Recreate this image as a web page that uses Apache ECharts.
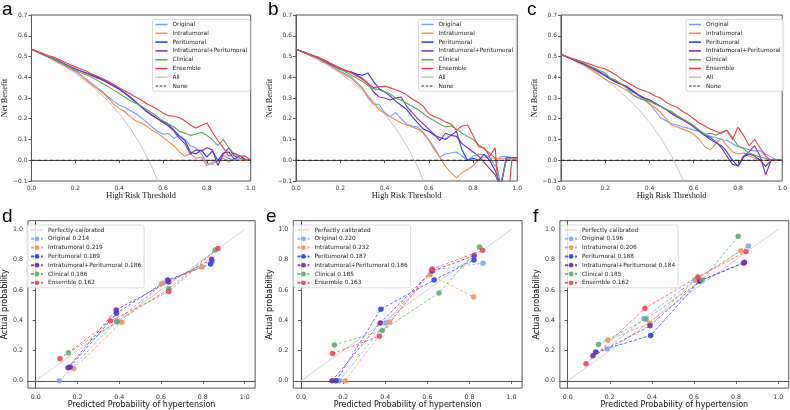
<!DOCTYPE html>
<html><head><meta charset="utf-8">
<script src="https://cdn.jsdelivr.net/npm/echarts@6/dist/echarts.min.js"></script>
<style>html,body{margin:0;padding:0;background:#fff}#c{width:790px;height:410px}</style>
</head><body><div id="c"></div>
<script>
// ---------- DATA ----------
const modelNames = ['Original','Intratumoral','Peritumoral','Intratumoral+Peritumoral','Clinical','Ensemble'];
const thresholds = [0,0.025,0.05,0.075,0.1,0.125,0.15,0.175,0.2,0.225,0.25,0.275,0.3,0.325,0.35,0.375,0.4,0.425,0.45,0.475,0.5,0.525,0.55,0.575,0.6,0.625,0.65,0.675,0.7,0.725,0.75,0.775,0.8,0.825,0.85,0.875,0.9,0.925,0.95,0.975,1.0];
const allThresholds = [0,0.05,0.1,0.15,0.2,0.25,0.3,0.35,0.4,0.45,0.5,0.55,0.6];

// Panel a
const aOriginal = [.535,.523,.51,.497,.485,.472,.458,.443,.428,.41,.39,.37,.35,.33,.305,.285,.265,.255,.24,.225,.205,.185,.16,.14,.125,.13,.105,.12,.1,.07,.06,.03,-.015,-.02,0,.02,.01,0,0,0,0];
const aIntratumoral = [.535,.523,.51,.497,.484,.47,.456,.442,.43,.41,.385,.365,.345,.325,.3,.27,.25,.235,.21,.19,.18,.165,.145,.13,.11,.09,.07,.04,.02,.03,.01,.015,-.025,-.01,-.005,.01,-.01,.01,0,0,0];
const aPeritumoral = [.535,.524,.512,.5,.49,.478,.465,.452,.44,.43,.42,.41,.4,.39,.375,.36,.345,.325,.305,.282,.26,.235,.215,.2,.185,.172,.145,.115,.095,.04,.03,.05,.015,.045,0,.035,.04,.005,.02,.005,0];
const aIntraPeri = [.535,.524,.512,.5,.489,.477,.464,.452,.44,.43,.42,.408,.397,.386,.372,.357,.342,.322,.302,.28,.258,.238,.218,.2,.182,.165,.14,.105,.08,.03,.05,.045,.06,.05,-.025,.03,.06,.02,.01,.005,0];
const aClinical = [.535,.524,.512,.5,.488,.475,.462,.448,.433,.422,.412,.4,.385,.37,.355,.338,.322,.305,.288,.275,.262,.245,.228,.21,.19,.175,.16,.14,.13,.12,.125,.135,.12,.1,.07,.1,.06,.03,.01,.005,0];
const aEnsemble = [.535,.525,.515,.505,.497,.485,.473,.462,.45,.44,.43,.415,.405,.393,.38,.365,.35,.335,.32,.305,.29,.272,.26,.245,.228,.215,.212,.205,.19,.17,.155,.168,.18,.135,.095,.06,.02,.035,.02,.02,0];
const aAll = [.535,.511,.483,.453,.419,.38,.336,.285,.225,.155,.07,-.033,-.16];

// Panel b
const bOriginal = [.535,.524,.512,.5,.49,.475,.46,.445,.43,.415,.4,.375,.35,.3,.27,.27,.23,.21,.23,.2,.175,.165,.16,.135,.1,.06,.015,.03,.035,.04,.02,0,.02,.03,.025,.015,-.03,.018,.018,.012,.012];
const bIntratumoral = [.535,.524,.512,.5,.488,.474,.46,.443,.425,.41,.395,.37,.345,.31,.275,.245,.225,.21,.195,.18,.17,.16,.15,.13,.095,.05,.015,-.03,-.06,-.085,-.06,-.045,-.025,0,.015,.01,.01,.01,.01,.01,.01];
const bPeritumoral = [.535,.525,.515,.505,.495,.48,.465,.452,.44,.43,.425,.415,.41,.42,.38,.345,.33,.31,.285,.265,.245,.21,.18,.15,.14,.12,.11,.1,.12,.14,.05,0,.01,0,.03,0,-.05,-.12,.012,.012,.012];
const bIntraPeri = [.535,.525,.515,.505,.495,.481,.467,.453,.44,.432,.425,.41,.395,.37,.33,.305,.3,.29,.3,.305,.26,.23,.2,.175,.15,.125,.095,.13,.12,.115,.08,.06,.04,.02,-.01,-.04,-.07,-.13,0,0,0];
const bClinical = [.535,.525,.515,.505,.495,.482,.47,.455,.44,.425,.41,.395,.38,.36,.345,.34,.33,.32,.3,.29,.275,.26,.245,.225,.205,.19,.175,.16,.165,.15,.13,.115,.1,.075,.055,.035,.01,-.12,0,0,0];
const bEnsemble = [.535,.525,.515,.505,.497,.484,.47,.458,.445,.432,.42,.405,.39,.37,.35,.355,.358,.35,.34,.33,.315,.295,.28,.26,.225,.21,.2,.185,.175,.145,.165,.17,.12,.065,.06,.02,.06,-.3,-.3,0,0];
const bAll = [.535,.511,.483,.453,.419,.38,.336,.285,.225,.155,.07,-.033,-.16];

// Panel c
const cOriginal = [.51,.499,.488,.475,.463,.449,.435,.42,.405,.39,.38,.365,.35,.33,.31,.295,.275,.24,.205,.19,.175,.17,.16,.155,.145,.14,.125,.115,.11,.1,.095,.08,.065,.06,.05,.045,.045,.03,.015,.003,0];
const cIntratumoral = [.51,.499,.487,.475,.463,.447,.43,.41,.39,.375,.365,.35,.335,.315,.3,.29,.27,.255,.23,.2,.17,.16,.15,.14,.125,.1,.065,.05,.08,.105,.07,.04,.03,.035,.02,.01,0,0,0,0,0];
const cPeritumoral = [.51,.499,.488,.476,.465,.452,.44,.425,.41,.39,.375,.365,.355,.335,.315,.3,.29,.275,.26,.245,.225,.21,.195,.18,.165,.14,.12,.1,.085,.07,.04,0,-.03,.015,.03,.02,0,-.03,0,0,0];
const cIntraPeri = [.51,.499,.488,.476,.465,.452,.44,.424,.408,.392,.378,.365,.35,.33,.315,.3,.29,.275,.26,.245,.225,.21,.195,.18,.16,.14,.12,.11,.09,.06,.02,-.02,-.025,.02,.04,.07,.02,-.07,0,0,0];
const cClinical = [.51,.5,.49,.48,.47,.457,.445,.432,.42,.395,.385,.365,.345,.315,.3,.29,.285,.27,.26,.245,.235,.215,.2,.185,.165,.145,.125,.13,.12,.135,.145,.11,.07,.055,.035,.025,.015,.01,0,0,0];
const cEnsemble = [.51,.5,.49,.482,.475,.465,.455,.447,.44,.425,.41,.39,.375,.36,.345,.335,.325,.31,.3,.28,.265,.255,.235,.22,.2,.18,.165,.15,.14,.13,.145,.1,.16,.12,.07,.1,.06,.02,0,0,0];
const cAll = [.51,.484,.456,.424,.388,.347,.3,.246,.183,.109,.02,-.089,-.225];

// Calibration panels (predicted, actual)
const dNames = ['Original 0.214','Intratumoral 0.219','Peritumoral 0.189','Intratumoral+Peritumoral 0.186','Clinical 0.186','Ensemble 0.162'];
const dPred = [[0.113,0.388,0.61,0.845],[0.182,0.412,0.602,0.796],[0.165,0.387,0.632,0.837],[0.155,0.385,0.636,0.842],[0.157,0.39,0.637,0.859],[0.116,0.358,0.637,0.872]];
const dActual = [[0.0,0.395,0.645,0.79],[0.081,0.387,0.64,0.752],[0.092,0.446,0.666,0.771],[0.086,0.468,0.653,0.802],[0.185,0.389,0.607,0.864],[0.145,0.396,0.589,0.873]];

const eNames = ['Original 0.220','Intratumoral 0.232','Peritumoral 0.187','Intratumoral+Peritumoral 0.186','Clinical 0.185','Ensemble 0.163'];
const ePred = [[0.182,0.403,0.62,0.864],[0.208,0.42,0.613,0.819],[0.166,0.379,0.632,0.821],[0.147,0.376,0.623,0.822],[0.158,0.385,0.655,0.848],[0.149,0.372,0.623,0.862]];
const eActual = [[0,0.382,0.73,0.776],[0,0.389,0.701,0.554],[0,0.473,0.666,0.798],[0,0.382,0.725,0.826],[0.237,0.332,0.58,0.884],[0.18,0.295,0.738,0.862]];

const fNames = ['Original 0.196','Intratumoral 0.206','Peritumoral 0.188','Intratumoral+Peritumoral 0.184','Clinical 0.185','Ensemble 0.162'];
const fPred = [[0.188,0.362,0.604,0.858],[0.191,0.391,0.606,0.823],[0.133,0.394,0.627,0.837],[0.12,0.391,0.627,0.839],[0.147,0.372,0.639,0.81],[0.087,0.367,0.619,0.847]];
const fActual = [[0.211,0.411,0.666,0.89],[0.27,0.38,0.666,0.859],[0.191,0.299,0.659,0.778],[0.165,0.363,0.659,0.782],[0.24,0.407,0.666,0.954],[0.112,0.479,0.686,0.853]];

const perfectLine = [0, 1];
const panelLetters = ['a','b','c','d','e','f'];

// ---------- STYLE ----------
const dcaColors = ['#6f9ff5','#f5884a','#2a36ee','#7a2fae','#5ea45e','#f2394b'];
const calColors = ['#7ea5f2','#f2935e','#2d3cf0','#7a2aa3','#62ad74','#f04657'];
const tickFont = 'DejaVu Sans';
const solidIcon = 'path://M0,0H16V2H0Z';
const thinIcon = 'path://M0,0H24V2H0Z';
const dashIcon = 'path://M0,0H3.5V1.3H0Z M5.5,0H9V1.3H5.5Z M11,0H14.5V1.3H11Z M16,0H16.01V1.3H16Z';

const grids = [
  {left:29.5, top:15, width:221.2, height:166},
  {left:296, top:15, width:221.3, height:166},
  {left:561, top:15, width:221.7, height:166},
  {left:26.3, top:220.7, width:228.8, height:167.6},
  {left:293.3, top:220.7, width:228.8, height:167.6},
  {left:559.9, top:220.7, width:228.8, height:167.6}
].map(g => Object.assign({show:true, borderColor:'#555', borderWidth:1, backgroundColor:'transparent', containLabel:false}, g));

const fmt = v => (v < -1e-9 ? '\u2212' : '') + Math.abs(v).toFixed(1);
const tickVals = [0,0.2,0.4,0.6,0.8,1.0];

const xAxes = [], yAxes = [];
for (let i = 0; i < 3; i++) {
  xAxes.push({gridIndex:i, type:'value', min:0, max:1, interval:0.2,
    axisLine:{show:true, lineStyle:{color:'#555', width:1}}, splitLine:{show:false},
    axisTick:{show:true, length:3, lineStyle:{color:'#555'}},
    axisLabel:{fontSize:6, fontFamily:tickFont, color:'#333', margin:4, formatter:fmt},
    name:'High Risk Threshold', nameLocation:'middle', nameGap:10,
    nameTextStyle:{fontFamily:'Liberation Serif', fontSize:8.3, color:'#111'}});
  yAxes.push({gridIndex:i, type:'value', min:-0.1, max:0.7, interval:0.1,
    axisLine:{show:true, lineStyle:{color:'#555', width:1}}, splitLine:{show:false},
    axisTick:{show:true, length:3, lineStyle:{color:'#555'}},
    axisLabel:{fontSize:6, fontFamily:tickFont, color:'#333', margin:4, formatter:fmt},
    name:'Net Benefit', nameLocation:'middle', nameGap:21, nameRotate:90,
    nameTextStyle:{fontFamily:'Liberation Serif', fontSize:8.3, color:'#111'}});
}
for (let i = 3; i < 6; i++) {
  xAxes.push({gridIndex:i, type:'value', min:-0.037, max:1.05,
    axisLine:{show:true, lineStyle:{color:'#555', width:1}}, splitLine:{show:false},
    axisTick:{show:true, length:3, lineStyle:{color:'#555'}, customValues:tickVals},
    axisLabel:{fontSize:6.3, fontFamily:tickFont, color:'#333', margin:6, formatter:fmt, customValues:tickVals},
    name:'Predicted Probability of hypertension', nameLocation:'middle', nameGap:12,
    nameTextStyle:{fontFamily:'DejaVu Sans', fontSize:8, color:'#111'}});
  yAxes.push({gridIndex:i, type:'value', min:-0.048, max:1.057,
    axisLine:{show:true, lineStyle:{color:'#555', width:1}}, splitLine:{show:false},
    axisTick:{show:true, length:3, lineStyle:{color:'#555'}, customValues:tickVals},
    axisLabel:{fontSize:6.3, fontFamily:tickFont, color:'#333', margin:5, formatter:fmt, customValues:tickVals},
    name:'Actual probability', nameLocation:'middle', nameGap:16, nameRotate:90,
    nameTextStyle:{fontFamily:'DejaVu Sans', fontSize:8, color:'#111'}});
}

const series = [];
const dcaSets = [
  [aOriginal,aIntratumoral,aPeritumoral,aIntraPeri,aClinical,aEnsemble,aAll],
  [bOriginal,bIntratumoral,bPeritumoral,bIntraPeri,bClinical,bEnsemble,bAll],
  [cOriginal,cIntratumoral,cPeritumoral,cIntraPeri,cClinical,cEnsemble,cAll]
];
dcaSets.forEach((set, gi) => {
  for (let k = 0; k < 6; k++) {
    series.push({type:'line', name:modelNames[k], xAxisIndex:gi, yAxisIndex:gi, symbol:'none',
      color:dcaColors[k], lineStyle:{width:1.1, color:dcaColors[k]}, clip:true,
      data: thresholds.map((t, j) => [t, set[k][j]])});
  }
  series.push({type:'line', name:'All', xAxisIndex:gi, yAxisIndex:gi, symbol:'none', clip:true, z:1,
    color:'#c4c4c4', lineStyle:{width:1, color:'#c4c4c4'},
    data: allThresholds.map((t, j) => [t, set[6][j]])});
  series.push({type:'line', name:'None', xAxisIndex:gi, yAxisIndex:gi, symbol:'none', clip:true,
    color:'#222', lineStyle:{width:1, color:'#222', type:[4,2]},
    data: [[0,0],[1,0]]});
});

const calSets = [[dNames,dPred,dActual],[eNames,ePred,eActual],[fNames,fPred,fActual]];
calSets.forEach((cs, ci) => {
  const gi = ci + 3;
  series.push({type:'line', name:'Perfectly calibrated', xAxisIndex:gi, yAxisIndex:gi, symbol:'none', z:1,
    color:'#c8c8c8', lineStyle:{width:0.8, color:'#c8c8c8'},
    data: perfectLine.map(v => [v, v])});
  for (let k = 0; k < 6; k++) {
    series.push({type:'line', name:cs[0][k], xAxisIndex:gi, yAxisIndex:gi, symbol:'circle', symbolSize:5.5,
      color:calColors[k], itemStyle:{color:calColors[k], opacity:0.9},
      lineStyle:{width:0.9, color:calColors[k], type:[3,2], opacity:0.85},
      data: cs[1][k].map((x, j) => [x, cs[2][k][j]])});
  }
});

const legendBase = {orient:'vertical', itemWidth:12, itemHeight:6, itemGap:2.8, padding:[2,3,2,3],
  selectedMode:false, symbolKeepAspect:true, itemStyle:{borderWidth:0},
  backgroundColor:'rgba(255,255,255,0.85)', borderColor:'#cfcfcf', borderWidth:0.8, borderRadius:2,
  textStyle:{fontSize:5.8, fontFamily:'DejaVu Sans', color:'#222'}};
const topLegendData = modelNames.concat(['All']).map(n => ({name:n, icon:solidIcon})).concat([{name:'None', icon:dashIcon}]);
const calLegendData = names => [{name:'Perfectly calibrated', icon:thinIcon}].concat(names.map(n => ({name:n})));
const legends = [
  Object.assign({}, legendBase, {left:152.5, top:19.5, data:topLegendData}),
  Object.assign({}, legendBase, {left:418.5, top:19.5, data:topLegendData}),
  Object.assign({}, legendBase, {left:686, top:19.5, data:topLegendData}),
  Object.assign({}, legendBase, {left:27, top:225, data:calLegendData(dNames)}),
  Object.assign({}, legendBase, {left:293.5, top:225, data:calLegendData(eNames)}),
  Object.assign({}, legendBase, {left:561, top:225, data:calLegendData(fNames)})
];

const letterPos = [[2,0],[268,0],[527,0],[2,207],[266,207],[533,207]];
const graphics = panelLetters.map((l, i) => ({type:'text', left:letterPos[i][0], top:letterPos[i][1],
  style:{text:l, font:'19px "Liberation Sans"', fill:'#000'}}));

const chart = echarts.init(document.getElementById('c'), null, {renderer:'canvas'});
chart.setOption({
  animation:false,
  backgroundColor:'#fff',
  grid:grids, xAxis:xAxes, yAxis:yAxes, series:series, legend:legends, graphic:graphics
});
</script></body></html>
